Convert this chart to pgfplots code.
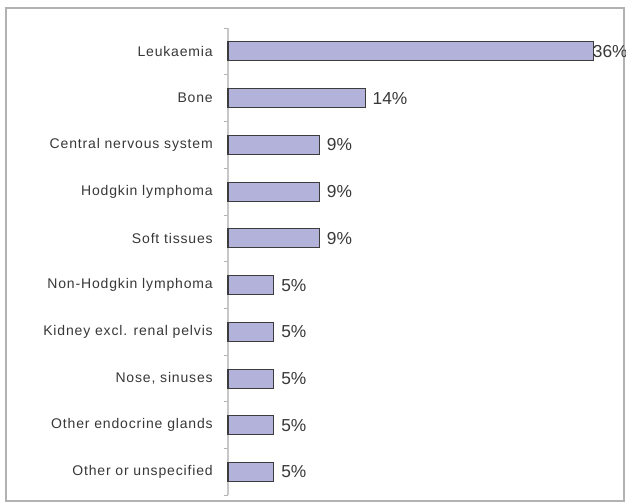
\documentclass[border=0pt]{standalone}
\usepackage{pgfplots}
\pgfplotsset{compat=1.18}
\usepackage{pgfplotstable}
\usepackage{fontspec}
\setmainfont{Liberation Sans}
\newfontfamily\catfont[LetterSpace=6]{Liberation Sans}
\definecolor{barfill}{RGB}{178,178,218}
\definecolor{baredge}{RGB}{60,60,60}
\definecolor{txt}{RGB}{55,55,55}
\pgfplotstableread{
y val pct dx
0 36.36 36 -0.75
1 13.64 14 5.25
2 9.09 9 5.25
3 9.09 9 5.25
4 9.09 9 5.25
5 4.55 5 5.25
6 4.55 5 5.25
7 4.55 5 5.25
8 4.55 5 5.25
9 4.55 5 5.25
}\datatable
\begin{document}
\begin{tikzpicture}
\useasboundingbox (0,0) rectangle (469.5pt,377.25pt);
\draw[black!30, line width=0.9pt] (4.5pt,1.5pt) rectangle (468pt,371.25pt);
\begin{axis}[
  at={(171pt,5.7pt)}, anchor=south west,
  scale only axis,
  width=278.9pt, height=350.5pt,
  xmin=0, xmax=37,
  ymin=-0.5, ymax=9.5,
  y dir=reverse,
  axis x line=none,
  axis y line=left,
  y axis line style={-, draw=black!22, line width=0.8pt},
  ytick={0,...,9},
  yticklabels={Leukaemia,Bone,Central nervous system,Hodgkin lymphoma,Soft tissues,Non-Hodgkin lymphoma,Kidney excl. renal pelvis,{Nose, sinuses},Other endocrine glands,Other or unspecified},
  major tick length=0pt,
  minor ytick={-0.5,0.5,...,9.5},
  minor tick length=3pt,
  tick align=outside,
  minor tick style={draw=black!30, line width=0.7pt},
  yticklabel style={font=\catfont\fontsize{10.5}{12}\selectfont, text=txt, inner sep=0pt, xshift=-11.25pt},
  /pgf/number format/assume math mode=true,
  xbar,
  bar width=14.25pt,
  bar shift=0pt,
  clip=false,
  point meta=explicit,
  nodes near coords={\pgfmathprintnumber[assume math mode=true]{\pgfplotspointmeta}\%},
  visualization depends on={\thisrow{dx} \as \dx},
  every node near coord/.append style={anchor=west, inner sep=0pt, xshift={\dx pt}, font=\fontsize{13}{15}\selectfont, text=txt},
]
\addplot[fill=barfill, draw=baredge, line width=0.8pt] table[x=val, y=y, meta=pct] {\datatable};
\end{axis}
\end{tikzpicture}
\end{document}
